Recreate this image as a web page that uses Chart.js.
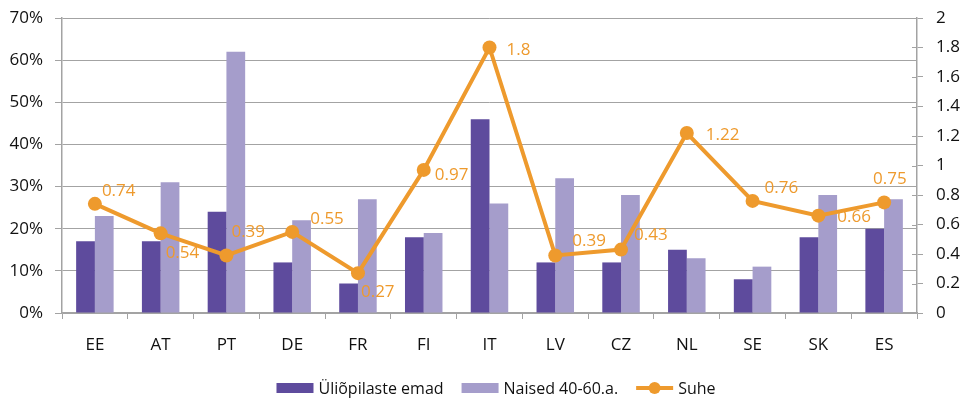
<!DOCTYPE html>
<html>
<head>
<meta charset="utf-8">
<script src="https://cdn.jsdelivr.net/npm/chart.js@4"></script>
<style>
html,body{margin:0;padding:0;background:#fff;}
#wrap{width:964px;height:413px;position:relative;}
</style>
</head>
<body>
<div id="wrap"><canvas id="chart" width="964" height="413"></canvas></div>
<script>

//=============================
// DATA
//=============================

const countries = ["EE","AT","PT","DE","FR","FI","IT","LV","CZ","NL","SE","SK","ES"];

const mothers = [17,17,24,12,7,18,46,12,12,15,8,18,20];      // Üliõpilaste emad, %

const women = [23,31,62,22,27,19,26,32,28,13,11,28,27];      // Naised 40-60.a., %

const ratio = [0.74,0.54,0.39,0.55,0.27,0.97,1.8,0.39,0.43,1.22,0.76,0.66,0.75];   // Suhe

const leftTicks = [0,10,20,30,40,50,60,70];

const rightTicks = [0,0.2,0.4,0.6,0.8,1,1.2,1.4,1.6,1.8,2];

// where each ratio label sits next to its point (dx = left edge, dy = middle)
const labelOffsets = [
    [7,-13],[5,20],[5,-23],[18,-13],[3,19],[11,5],[17,3],
    [17,-14],[13,-14],[19,2],[12,-13],[19,2],[-11,-23]
];

const DARK = "#5e4b9d";
const LIGHT = "#a59dcb";
const ORANGE = "#ee9a2d";
const GRID = "#a3a3a3";
const FONT = "'Open Sans', 'Liberation Sans', sans-serif";

//=============================
// PLUGINS
//=============================

const ratioLabels = {
    id:"ratioLabels",
    afterDatasetsDraw(chart){
        const ctx = chart.ctx;
        const meta = chart.getDatasetMeta(2);
        ctx.save();
        ctx.font = "17px " + FONT;
        ctx.fillStyle = ORANGE;
        ctx.textBaseline = "middle";
        ctx.textAlign = "left";
        meta.data.forEach((p,i)=>{
            const off = labelOffsets[i];
            ctx.fillText(String(ratio[i]), p.x + off[0], p.y + off[1]);
        });
        ctx.restore();
    }
};

// right axis ticks cross the axis line, draw the inner half
const innerTicks = {
    id:"innerTicks",
    afterDraw(chart){
        const s = chart.scales.y1;
        const ctx = chart.ctx;
        ctx.save();
        ctx.strokeStyle = GRID;
        ctx.lineWidth = 1;
        rightTicks.forEach(v=>{
            const y = Math.round(s.getPixelForValue(v)) + 0.5;
            ctx.beginPath();
            ctx.moveTo(s.left - 5, y);
            ctx.lineTo(s.left, y);
            ctx.stroke();
        });
        ctx.restore();
    }
};

const customLegend = {
    id:"customLegend",
    afterDraw(chart){
        const ctx = chart.ctx;
        const ds = chart.data.datasets;
        ctx.save();
        ctx.font = "16px " + FONT;
        ctx.textBaseline = "middle";
        const order = [0,1,2];
        const sw = 37, gap = 5, space = 18;
        let total = 0;
        order.forEach((k,j)=>{
            total += sw + gap + ctx.measureText(ds[k].label).width;
            if(j < order.length-1) total += space;
        });
        let x = chart.width/2 + 14 - total/2;
        const y = 388;
        order.forEach(k=>{
            const d = ds[k];
            if(d.type === "line"){
                ctx.strokeStyle = ORANGE;
                ctx.lineWidth = 4;
                ctx.beginPath();
                ctx.moveTo(x, y);
                ctx.lineTo(x+sw, y);
                ctx.stroke();
                ctx.fillStyle = ORANGE;
                ctx.beginPath();
                ctx.arc(x+sw/2, y, 6, 0, Math.PI*2);
                ctx.fill();
            } else {
                ctx.fillStyle = d.backgroundColor;
                ctx.fillRect(x, y-5, sw, 10);
            }
            x += sw + gap;
            ctx.fillStyle = "#111";
            ctx.fillText(d.label, x, y+1);
            x += ctx.measureText(d.label).width + space;
        });
        ctx.restore();
    }
};

//=============================
// CHART
//=============================

new Chart(document.getElementById("chart"),{

type:"bar",

data:{
    labels:countries,
    datasets:[
        {
            label:"Üliõpilaste emad",
            data:mothers,
            backgroundColor:DARK,
            yAxisID:"y",
            order:2,
            categoryPercentage:0.57,
            barPercentage:1
        },
        {
            label:"Naised 40-60.a.",
            data:women,
            backgroundColor:LIGHT,
            yAxisID:"y",
            order:2,
            categoryPercentage:0.57,
            barPercentage:1
        },
        {
            type:"line",
            label:"Suhe",
            data:ratio,
            borderColor:ORANGE,
            backgroundColor:ORANGE,
            borderWidth:4,
            pointRadius:7,
            pointHoverRadius:7,
            pointBorderWidth:0,
            tension:0,
            yAxisID:"y1",
            order:1
        }
    ]
},

options:{
    responsive:false,
    animation:false,
    events:[],
    layout:{padding:{top:18,bottom:40,left:0,right:0}},
    plugins:{
        legend:{display:false},
        tooltip:{enabled:false}
    },
    scales:{
        x:{
            grid:{
                offset:true,
                drawOnChartArea:false,
                color:GRID,
                tickLength:6,
                lineWidth:1
            },
            border:{color:GRID,width:1.5},
            ticks:{
                color:"#111",
                font:{family:FONT,size:17},
                padding:16,
                maxRotation:0
            },
            afterFit(s){ s.height = 60; }
        },
        y:{
            position:"left",
            min:0,
            max:70,
            afterBuildTicks(s){ s.ticks = leftTicks.map(v=>({value:v})); },
            grid:{color:GRID,lineWidth:1,tickLength:7},
            border:{color:GRID,width:1.5},
            ticks:{
                color:"#111",
                font:{family:FONT,size:17},
                padding:12,
                callback:v=>v+"%"
            },
            afterFit(s){ s.width = 62; s.paddingTop = 0; s.paddingBottom = 0; }
        },
        y1:{
            position:"right",
            min:0,
            max:2,
            afterBuildTicks(s){ s.ticks = rightTicks.map(v=>({value:v})); },
            grid:{drawOnChartArea:false,color:GRID,tickLength:6},
            border:{color:GRID,width:1.5},
            ticks:{
                color:"#111",
                font:{family:FONT,size:17},
                padding:13,
                callback:v=>String(Math.round(v*10)/10)
            },
            afterFit(s){ s.width = 47; s.paddingTop = 0; s.paddingBottom = 0; }
        }
    }
},

plugins:[ratioLabels,innerTicks,customLegend]

});

</script>
</body>
</html>
